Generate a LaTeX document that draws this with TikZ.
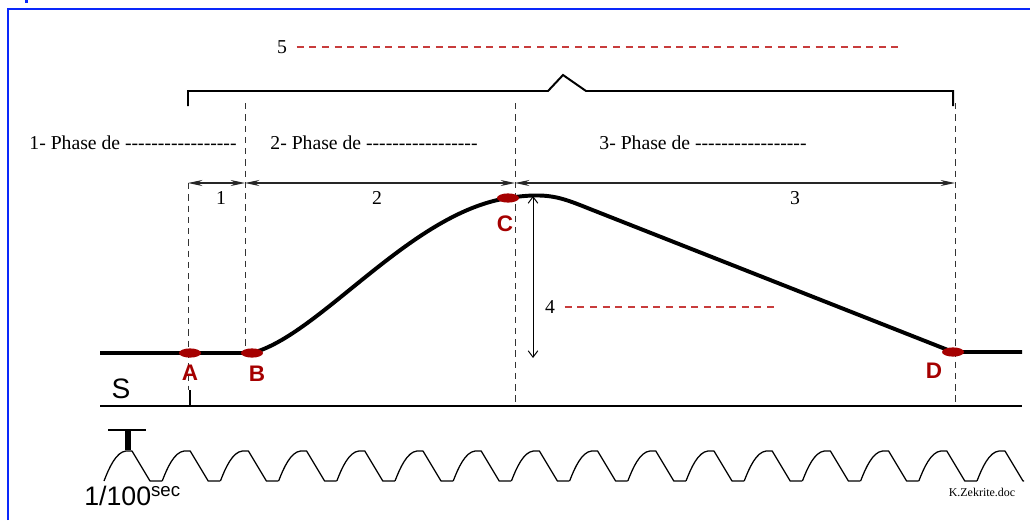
\documentclass[tikz,border=0pt]{standalone}
\usepackage{fontspec}
\setmainfont{Liberation Serif}[Ligatures=TeXOff]
\setsansfont{Liberation Sans}
\usetikzlibrary{shapes.geometric, arrows.meta, positioning, calc}
\definecolor{frameblue}{RGB}{10,40,250}
\definecolor{ptred}{RGB}{165,0,0}
\definecolor{leadred}{RGB}{200,60,60}
\tikzset{
    guide/.style={black!80, line width=0.6pt, dash pattern=on 4.5pt off 3.5pt},
    leader/.style={leadred, line width=0.8pt, dash pattern=on 5pt off 4pt},
    dim/.style={black!85, line width=0.9pt, {Stealth[length=3.6mm,width=1.5mm,inset=1.2mm]}-{Stealth[length=3.6mm,width=1.5mm,inset=1.2mm]}},
    height dim/.style={black, line width=0.7pt, {Straight Barb[length=1.6mm,width=2.4mm]}-{Straight Barb[length=1.6mm,width=2.4mm]}},
    signal/.style={line width=2.8pt},
    wave/.style={line width=0.9pt, line join=round},
    pt dot/.style={ellipse, fill=ptred, minimum width=5.5mm, minimum height=2.3mm, inner sep=0pt},
    pt label/.style={font=\sffamily\bfseries\fontsize{16}{18}\selectfont, text=ptred},
    phase/.style={font=\fontsize{14}{16}\selectfont},
    num/.style={font=\fontsize{14}{16}\selectfont, inner sep=1pt}
}
\begin{document}
\begin{tikzpicture}[x=0.025cm, y=-0.025cm]
    \useasboundingbox (0,0) rectangle (1030,520);

    % frame
    \draw[frameblue, line width=1.6pt] (8,520) -- (8,9) -- (1030,9);
    \fill[frameblue] (25,0) rectangle (28,3);

    % brace and label 5
    \draw[line width=1.4pt] (188,106) -- (188,91) -- (548,91) -- (563,75) -- (586,91) -- (953,91) -- (953,106);
    \node[num] (five) at (282,47) {5};
    \coordinate (five end) at (900,47);
    \draw[leader] ($(five.east)+(8,0)$) -- (five end);

    % phase texts
    \node[phase] (ph1) at (133,143) {1- Phase de -----------------};
    \node[phase] (ph2) at (374,143) {2- Phase de -----------------};
    \node[phase] (ph3) at (703,143) {3- Phase de -----------------};

    % guides
    \coordinate (d1) at (188,183);
    \coordinate (d2) at (245,183);
    \coordinate (d3) at (515,183);
    \coordinate (d4) at (955,183);
    \draw[guide] (d1) -- (188,390);
    \draw[guide] (245,103) -- (245,350);
    \draw[guide] (515,103) -- (515,406);
    \draw[guide] (955,103) -- (955,406);

    % durations
    \draw[dim] (d1) -- (d2);
    \draw[dim] (d2) -- (d3);
    \draw[dim] (d3) -- (d4);
    \node[num] (n1) at (221,198) {1};
    \node[num] (n2) at (377,198) {2};
    \node[num] (n3) at (795,198) {3};

    % height
    \coordinate (h top) at (533,196);
    \coordinate (h bot) at (533,358);
    \draw[height dim] (h bot) -- (h top);
    \node[num] (four) at (550,307) {4};
    \coordinate (four end) at (775,307);
    \draw[leader] ($(four.east)+(8,0)$) -- (four end);

    % signal
    \coordinate (pA) at (190,353);
    \coordinate (pB) at (252,353);
    \coordinate (pC) at (508,198);
    \coordinate (pD) at (953,352);
    \draw[signal] (100,353) -- (pA) -- (pB) .. controls (320,335) and (410,213) .. (pC)
        .. controls (548,192) and (560,197) .. (590,209) -- (pD) -- (1022,352);
    \node[pt dot] (A) at (pA) {};
    \node[pt dot] (B) at (pB) {};
    \node[pt dot] (C) at (pC) {};
    \node[pt dot] (D) at (pD) {};
    \node[pt label] (labA) at (190,373) {A};
    \node[pt label] (labB) at (257,374) {B};
    \node[pt label] (labC) at (505,224) {C};
    \node[pt label] (labD) at (934,371) {D};

    % base line
    \node[font=\sffamily\fontsize{20}{22}\selectfont] (S) at (121,389) {S};
    \draw[line width=1.3pt] (100,406) -- (1022,406);
    \draw[line width=2pt] (190,390) -- (190,406);

    % timer
    \draw[line width=1.5pt] (108,430) -- (146,430);
    \draw[line width=4pt] (128,430) -- (128,450);
    \begin{scope}
        \clip (95,440) rectangle (1024,490);
        \foreach \n in {0,...,15}{
            \pgfmathsetmacro{\wx}{104+58.2*\n}
            \draw[wave] (\wx,481) .. controls (\wx+5,468) and (\wx+12,452) .. (\wx+22,451)
                -- (\wx+28,451) -- (\wx+46,481) -- (\wx+58,481);
        }
    \end{scope}
    \node[anchor=base west, font=\sffamily\fontsize{19}{21}\selectfont, inner sep=0pt] (tick) at (84,505) {1/100\textsuperscript{sec}};
    \node[font=\fontsize{8.5}{10}\selectfont] (credit) at (982,492) {K.Zekrite.doc};
\end{tikzpicture}
\end{document}
